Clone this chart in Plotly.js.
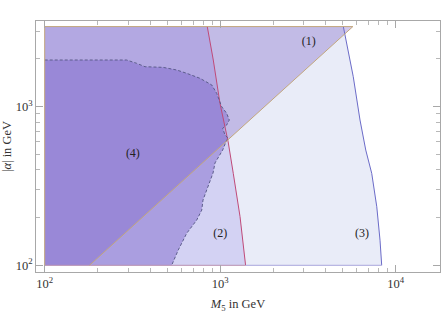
<!DOCTYPE html>
<html>
<head>
<meta charset="utf-8">
<script src="https://cdn.plot.ly/plotly-3.0.1.min.js"></script>
<style>html,body{margin:0;padding:0;background:#fff;}#chart{width:443px;height:313px;}</style>
</head>
<body>
<div id="chart"></div>
<script>
// Axis limits of the filled regions
const m5Min = 100, alphaMin = 100, alphaMax = 3200;

// Region (1): above the diagonal line
const diagM5 = [180, 5700];
const diagAlpha = [100, 3200];

// Region (2): left of the red curve
const redM5 = [844, 913, 997, 1060, 1110, 1187, 1297, 1395];
const redAlpha = [3200, 1970, 1051, 760, 600, 380, 203, 100];

// Region (3): left of the blue curve
const blueM5 = [5030, 5730, 6260, 6540, 6750, 7300, 7800, 8140, 8320];
const blueAlpha = [3200, 1546, 824, 617, 533, 380, 234, 144, 100];

// Region (4): left of the dashed contour
const dashM5 = [100, 293, 334, 373, 472, 565, 644, 767, 895, 955, 1020, 1089, 1127, 1089, 1033, 1065, 1112, 1089, 1033, 934, 910, 798, 785, 735, 644, 577, 529];
const dashAlpha = [1970, 1970, 1878, 1787, 1771, 1704, 1624, 1510, 1371, 1215, 1000, 908, 824, 767, 731, 663, 632, 617, 533, 442, 382, 258, 223, 193, 159, 125, 100];

// Region labels
const labelText = ['(1)', '(2)', '(3)', '(4)'];
const labelM5 = [3200, 1000, 6430, 318];
const labelAlpha = [2560, 157, 157, 503];

// Tick labels
const xTickVals = [100, 1000, 10000];
const xTickText = ['10<sup>2</sup>', '10<sup>3</sup>', '10<sup>4</sup>'];
const yTickVals = [100, 1000];
const yTickText = ['10<sup>2</sup>', '10<sup>3</sup>'];
const xMinor = [200,300,400,500,600,700,800,900,2000,3000,4000,5000,6000,7000,8000,9000];
const yMinor = [200,300,400,500,600,700,800,900,2000,3000];

const serif = 'Liberation Serif, Times New Roman, serif';

function poly(xs, ys, fill) {
  return {x: xs, y: ys, type: 'scatter', mode: 'lines', fill: 'toself', fillcolor: fill,
          line: {width: 0}, hoverinfo: 'skip', showlegend: false};
}
function line(xs, ys, color, dash) {
  return {x: xs, y: ys, type: 'scatter', mode: 'lines',
          line: {color: color, width: 1, dash: dash || 'solid'}, hoverinfo: 'skip', showlegend: false};
}

const traces = [
  poly([m5Min, m5Min].concat(blueM5), [alphaMin, alphaMax].concat(blueAlpha), 'rgba(108,128,208,0.15)'),
  poly([m5Min, m5Min].concat(redM5), [alphaMin, alphaMax].concat(redAlpha), 'rgba(123,111,223,0.2)'),
  poly([m5Min].concat(diagM5).concat([m5Min]), [alphaMin].concat(diagAlpha).concat([alphaMax]), 'rgba(106,73,188,0.3)'),
  poly([m5Min].concat(dashM5), [alphaMin].concat(dashAlpha), 'rgba(126,103,203,0.48)'),
  line(blueM5, blueAlpha, '#6b6bc8'),
  line(redM5, redAlpha, '#c04a78'),
  line(dashM5, dashAlpha, '#5d5d8c', '3px,2px'),
  line([redM5[redM5.length-1], blueM5[blueM5.length-1]], [alphaMin, alphaMin], '#a9a7dc'),
  line([m5Min, redM5[redM5.length-1]], [alphaMin, alphaMin], '#b78fb0'),
  line([m5Min, m5Min, diagM5[1]], [alphaMin, alphaMax, alphaMax], '#c2a67c'),
  line(diagM5, diagAlpha, '#c2a67c'),
  {x: labelM5, y: labelAlpha, text: labelText, type: 'scatter', mode: 'text',
   textfont: {family: serif, size: 12, color: '#222'}, hoverinfo: 'skip', showlegend: false}
];

const axisCommon = {
  type: 'log', showgrid: false, zeroline: false,
  showline: true, linecolor: '#a8a8a8', linewidth: 1, mirror: 'ticks',
  ticks: 'inside', ticklen: 7, tickcolor: '#a8a8a8', tickwidth: 1,
  tickmode: 'array',
  tickfont: {family: serif, size: 12.5, color: '#333'},
  minor: {ticks: 'inside', ticklen: 4, tickcolor: '#b8b8b8', tickwidth: 1, tickmode: 'array', showgrid: false}
};

const layout = {
  width: 443, height: 313,
  margin: {l: 36, r: 3, t: 21, b: 41},
  paper_bgcolor: '#fff', plot_bgcolor: '#fff',
  showlegend: false,
  xaxis: Object.assign({}, axisCommon, {
    range: [1.9504, 4.2524],
    tickvals: xTickVals, ticktext: xTickText,
    minor: Object.assign({}, axisCommon.minor, {tickvals: xMinor}),
    title: {text: '<i>M</i><sub>5</sub> in GeV', font: {family: serif, size: 12.5, color: '#333'}, standoff: 9}
  }),
  yaxis: Object.assign({}, axisCommon, {
    range: [1.9578, 3.5404],
    tickvals: yTickVals, ticktext: yTickText,
    minor: Object.assign({}, axisCommon.minor, {tickvals: yMinor}),
    title: {text: '|<i>α</i>| in GeV', font: {family: serif, size: 12.5, color: '#333'}, standoff: 4}
  })
};

Plotly.newPlot('chart', traces, layout, {staticPlot: true, displayModeBar: false});
</script>
</body>
</html>
